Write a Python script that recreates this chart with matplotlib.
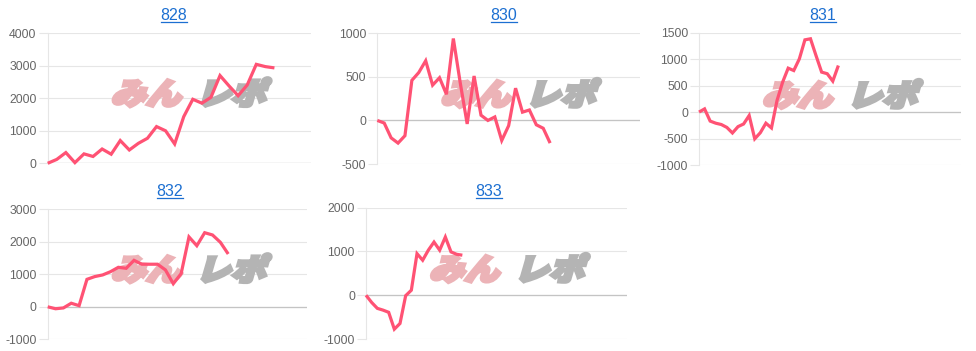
import matplotlib
matplotlib.use('Agg')
import matplotlib.pyplot as plt
from matplotlib.textpath import TextPath
from matplotlib.patches import PathPatch
from matplotlib.font_manager import FontProperties
from matplotlib.transforms import Affine2D
from matplotlib.lines import Line2D

plt.rcParams['font.family'] = ['Liberation Sans', 'DejaVu Sans']
plt.rcParams['axes.unicode_minus'] = False

# machine numbers and running balance per day
titles = ['828', '830', '831', '832', '833']
vals_828 = [0, 120, 330, 20, 290, 210, 440, 280, 700, 410, 615, 770, 1130, 1000, 595,
            1435, 1970, 1850, 2030, 2700, 2380, 2080, 2410, 3045, 2975, 2935]
vals_830 = [0, -30, -200, -260, -175, 460, 550, 685, 405, 490, 300, 940, 430, -40, 510,
            60, 0, 40, -230, -60, 370, 95, 120, -50, -90, -260]
vals_831 = [0, 60, -170, -210, -235, -290, -395, -275, -225, -65, -505, -390, -210, -300,
            220, 565, 830, 785, 1005, 1365, 1385, 1065, 755, 725, 585, 880]
vals_832 = [0, -60, -35, 110, 35, 845, 930, 980, 1080, 1215, 1185, 1430, 1310, 1310, 1310,
            1135, 710, 1020, 2150, 1880, 2280, 2210, 1985, 1625]
vals_833 = [0, -165, -300, -340, -390, -775, -645, -10, 115, 950, 800, 1030, 1215, 1030,
            1330, 990, 935, 915]
series = [vals_828, vals_830, vals_831, vals_832, vals_833]
y_ranges = [(0, 4000, 1000), (-500, 1000, 500), (-1000, 1500, 500), (-1000, 3000, 1000), (-1000, 2000, 1000)]

W, H = 976, 351
fig = plt.figure(figsize=(W / 100, H / 100), dpi=100)

# panel boxes in pixels: left, right, top, bottom ; x extent in days
boxes = [(47.7, 310.7, 33.3, 163.3), (377.3, 640, 33.3, 164), (699, 961, 32.7, 165),
         (47.7, 306.7, 209.3, 339.3), (366, 626.7, 207.7, 339)]
x_max = [29, 38, 47, 33, 46]
title_pos = [(174, 20), (504, 20), (823, 20), (170, 196), (489, 196)]

line_color = '#ff5274'
grid_color = '#e6e6e6'
logo_font = FontProperties(family='Noto Sans CJK JP', weight='heavy')

title_texts = []
for i in range(5):
    l, r, t, b = boxes[i]
    ax = fig.add_axes([l / W, 1 - b / H, (r - l) / W, (b - t) / H])
    lo, hi, step = y_ranges[i]
    ax.set_xlim(0, x_max[i])
    ax.set_ylim(lo, hi)
    ax.set_yticks(range(lo, hi + 1, step))
    ax.set_xticks([])
    ax.grid(axis='y', color=grid_color, lw=0.8, zorder=0)
    ax.axhline(0, color='#c4c4c4', lw=0.9, zorder=0.6)
    for s in ['top', 'right', 'bottom']:
        ax.spines[s].set_visible(False)
    ax.spines['left'].set_color(grid_color)
    ax.spines['left'].set_linewidth(0.8)
    ax.tick_params(axis='y', length=6.5, width=0.8, color=grid_color, pad=1.5,
                   labelsize=8.8, labelcolor='#666666')
    ax.set_axisbelow(True)

    # watermark logo
    ox, oy = l + 63, H - b + 59
    for txt, dx, col in [('みん', 0, '#ecb3b7'), ('レポ', 85, '#b4b4b4')]:
        tp = TextPath((0, 0), txt, size=35, prop=logo_font)
        tr = Affine2D().skew_deg(14, 0).scale(1.0, 0.86).translate(ox + dx, oy)
        patch = PathPatch(tp, facecolor=col, edgecolor=col, lw=2.6, joinstyle='miter',
                          zorder=1, transform=tr)
        ax.add_artist(patch)

    x = list(range(len(series[i])))
    ax.plot(x, series[i], color=line_color, lw=2.3, zorder=3, clip_on=False,
            solid_joinstyle='miter', solid_capstyle='butt')

    tx, ty = title_pos[i]
    tt = fig.text(tx / W, 1 - ty / H, titles[i], ha='center', va='baseline',
                  fontsize=11.5, color='#1c6fd1')
    title_texts.append(tt)

# underline titles like links
fig.canvas.draw()
renderer = fig.canvas.get_renderer()
for tt, (tx, ty) in zip(title_texts, title_pos):
    bb = tt.get_window_extent(renderer)
    yy = 1 - (ty + 1.8) / H
    fig.add_artist(Line2D([bb.x0 / W, bb.x1 / W], [yy, yy], color='#1c6fd1', lw=0.9))

fig.savefig('out.png', dpi=100)
